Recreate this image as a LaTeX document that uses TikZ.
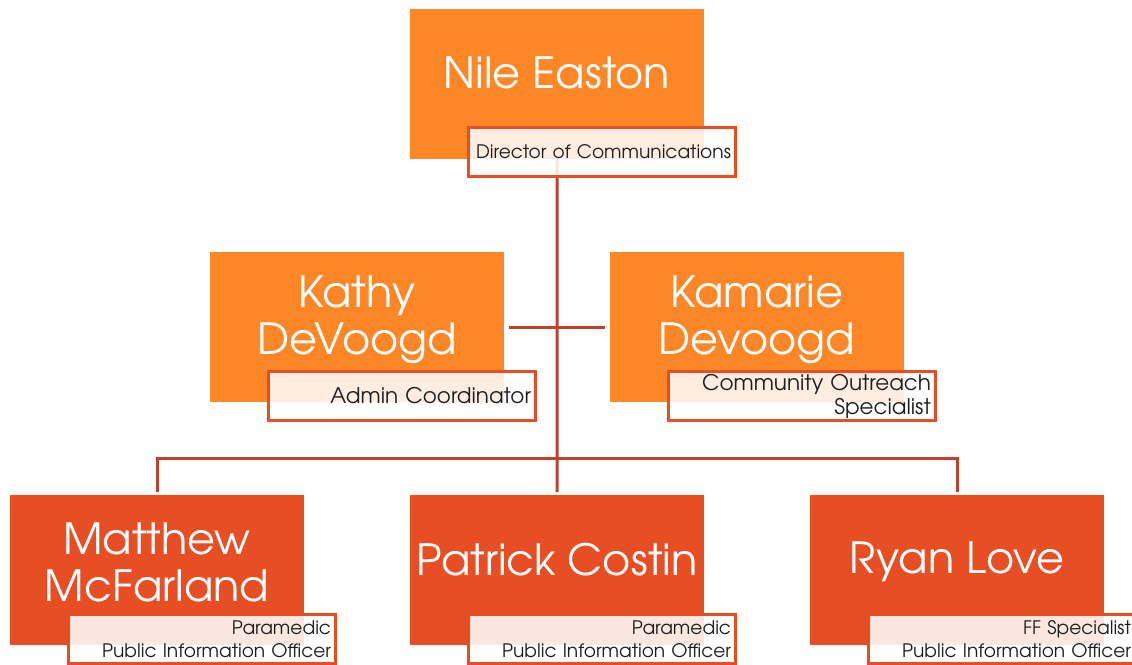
\documentclass[tikz,border=0pt]{standalone}
\usepackage{fontspec}
\IfFontExistsTF{texgyreadventor-regular.otf}{\setmainfont{texgyreadventor-regular.otf}}{\setmainfont{Poppins}}
\definecolor{orangeA}{HTML}{FD8627}
\definecolor{redA}{HTML}{E84E24}
\definecolor{lineC}{HTML}{BE4128}
\definecolor{txt}{HTML}{1E1E1E}
\tikzset{
  box/.style={anchor=north west, minimum width=294, minimum height=150, inner sep=0pt, draw=none},
  upper/.style={box, fill=orangeA},
  lower/.style={box, fill=redA},
  pname/.style={text=white, align=center, font=\fontsize{43}{47}\selectfont, inner sep=0pt},
  tbox/.style={anchor=north west, draw=redA, line width=3pt, fill=white, fill opacity=0.86, text opacity=1,
    text=txt, text width=258, minimum height=49, inner xsep=4.5pt, inner ysep=2pt, align=right,
    font=\fontsize{18.6}{23.5}\selectfont},
  bigt/.style={font=\fontsize{21.5}{24}\selectfont}
}
\tikzset{conn/.style={draw=lineC, line width=3pt}}
\begin{document}
\begin{tikzpicture}[x=1pt,y=-1pt]
\useasboundingbox (0,0) rectangle (1132,664);
% person boxes
\node[upper] (nile) at (410,9) {};
\node[upper] (kathy) at (210,252) {};
\node[upper] (kamarie) at (610,252) {};
\node[lower] (matthew) at (10,495) {};
\node[lower] (patrick) at (410,495) {};
\node[lower] (ryan) at (810,495) {};
% connectors
\coordinate (hub) at (557,458);
\draw[conn] (nile.south) -- (hub);
\draw[conn, shorten <=5pt, shorten >=5pt] (kathy.east) -- (kamarie.west);
\draw[conn, shorten >=3pt] (hub) -| (matthew.north);
\draw[conn, shorten >=3pt] (hub) -- (patrick.north);
\draw[conn, shorten >=3pt] (hub) -| (ryan.north);
% names
\node[pname] (nileN) at (557,73) {Nile Easton};
\node[pname] (kathyN) at (357,320) {Kathy\\DeVoogd};
\node[pname] (kamarieN) at (757,320) {Kamarie\\Devoogd};
\node[pname] (matthewN) at (157,562) {Matthew\\McFarland};
\node[pname] (patrickN) at (557,560) {Patrick Costin};
\node[pname] (ryanN) at (957,562) {Ryan Love};
% titles
\node[tbox] (nileT) at (467,126) {Director of Communications};
\node[tbox, bigt] (kathyT) at (267,370) {Admin Coordinator};
\node[tbox, bigt] (kamarieT) at (667,370) {Community Outreach\\Specialist};
\node[tbox] (matthewT) at (67,613) {Paramedic\\Public Information Officer};
\node[tbox] (patrickT) at (467,613) {Paramedic\\Public Information Officer};
\node[tbox] (ryanT) at (867,613) {FF Specialist\\Public Information Officer};
\end{tikzpicture}
\end{document}
